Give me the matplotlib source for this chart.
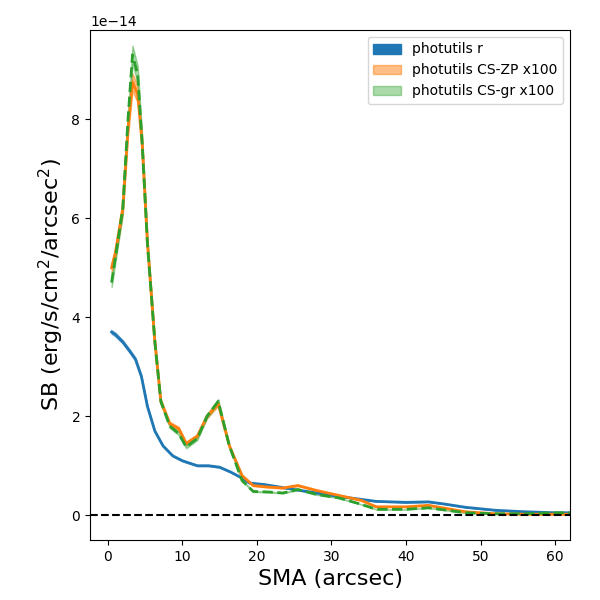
import matplotlib
matplotlib.use("Agg")
import matplotlib.pyplot as plt
import matplotlib.patches as mpatches
import numpy as np

sma_r = [0.5, 1, 2, 3, 3.7, 4.5, 5.3, 6.3, 7.4, 8.7, 10, 11, 12, 13.5, 15, 16.5, 18, 19, 21, 23, 25,
         28, 31, 34, 36, 40, 43, 45, 48, 52, 56, 60, 62]
sb_r = [3.7, 3.65, 3.5, 3.3, 3.15, 2.8, 2.2, 1.7, 1.4, 1.2, 1.1, 1.05, 1.0, 1.0, 0.97, 0.87, 0.75,
        0.65, 0.62, 0.57, 0.52, 0.45, 0.38, 0.32, 0.28, 0.26, 0.27, 0.23, 0.16, 0.1, 0.07, 0.05, 0.05]

sma_c = [0.5, 1, 2, 2.7, 3.3, 4, 4.6, 5.3, 6.3, 7.1, 8.3, 9.5, 10.5, 12, 13.3, 14.8, 16.3, 18, 19.5,
         21.5, 23.5, 25.5, 28, 31, 34, 36, 40, 43, 48, 52, 56, 60, 62]
sb_zp = [5.0, 5.3, 6.2, 7.8, 8.75, 8.5, 7.5, 5.5, 3.5, 2.3, 1.85, 1.75, 1.45, 1.6, 2.0, 2.25, 1.4, 0.8,
         0.6, 0.57, 0.55, 0.6, 0.5, 0.4, 0.3, 0.17, 0.17, 0.2, 0.07, 0.03, 0.02, 0.02, 0.02]
sb_gr = [4.7, 5.2, 6.2, 8.0, 9.3, 8.9, 7.5, 5.5, 3.5, 2.3, 1.8, 1.65, 1.38, 1.55, 2.0, 2.3, 1.4, 0.7,
         0.48, 0.47, 0.45, 0.52, 0.42, 0.35, 0.22, 0.12, 0.12, 0.15, 0.05, 0.03, 0.03, 0.05, 0.05]

scale = 1e-14
r = np.array(sb_r) * scale
zp = np.array(sb_zp) * scale
gr = np.array(sb_gr) * scale

fig, ax = plt.subplots(figsize=(6, 6), dpi=100)
ax.fill_between(sma_r, r * 0.99, r * 1.01, color="C0", alpha=0.5)
ax.plot(sma_r, r, color="C0", lw=2)
ax.fill_between(sma_c, zp * 0.98, zp * 1.02, color="C1", alpha=0.5)
ax.plot(sma_c, zp, color="C1", lw=2)
ax.fill_between(sma_c, gr * 0.98, gr * 1.02, color="C2", alpha=0.4)
ax.plot(sma_c, gr, color="C2", lw=2, ls="--")
ax.axhline(0, color="k", ls="--")

ax.set_xlim(-2.4, 62)
ax.set_ylim(-0.5e-14, 9.8e-14)
ax.set_xlabel("SMA (arcsec)", fontsize=16)
ax.set_ylabel("SB (erg/s/cm$^2$/arcsec$^2$)", fontsize=16)
handles = [mpatches.Patch(color="C0", label="photutils r"),
           mpatches.Patch(color="C1", alpha=0.5, label="photutils CS-ZP x100"),
           mpatches.Patch(color="C2", alpha=0.4, label="photutils CS-gr x100")]
ax.legend(handles=handles, loc="upper right")
fig.subplots_adjust(left=0.15, right=0.95, bottom=0.1, top=0.95)
fig.savefig("out.png")
